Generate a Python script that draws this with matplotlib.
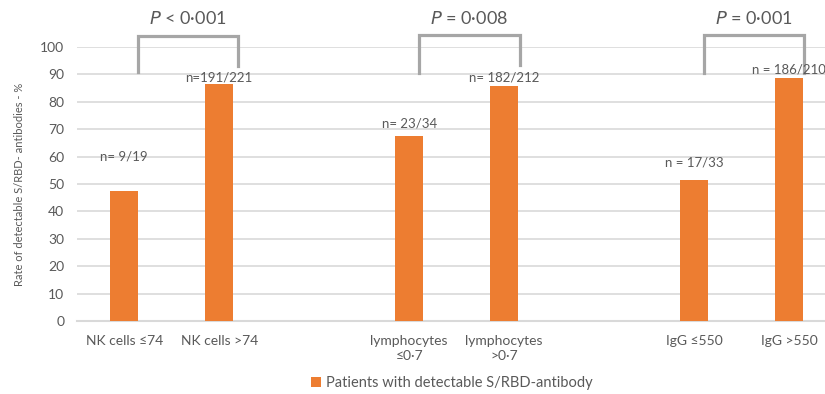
import matplotlib.pyplot as plt

plt.rcParams['font.family'] = ['Lato', 'DejaVu Sans']

categories = ["NK cells ≤74", "NK cells >74", "", "lymphocytes\n≤0·7",
              "lymphocytes\n>0·7", "", "IgG ≤550", "IgG >550"]
bar_pos = [0, 1, 3, 4, 6, 7]
values = [47.4, 86.4, 67.6, 85.8, 51.5, 88.6]
n_labels = ["n= 9/19", "n=191/221", "n= 23/34", "n= 182/212", "n = 17/33", "n = 186/210"]
n_label_y = [60.2, 89.0, 71.9, 89.0, 57.7, 91.6]

p_texts = [r"$\it{P}$ < 0·001", r"$\it{P}$ = 0·008", r"$\it{P}$ = 0·001"]
# bracket: x left, x right, left leg bottom, right leg bottom, top
brackets = [(0.14, 1.2, 91, 93, 103.8),
            (3.1, 4.17, 90.5, 93.5, 104.4),
            (6.1, 7.16, 90.5, 90.5, 104.4)]

orange = "#ED7D31"
txt = "#595959"
grid = "#D9D9D9"

fig = plt.figure(figsize=(8.25, 3.94), dpi=100)
ax = fig.add_axes([0.093, 0.185, 0.921, 0.696])

ax.bar(bar_pos, values, width=0.3, color=orange, zorder=3,
       label="Patients with detectable S/RBD-antibody")

for x, lab, y in zip(bar_pos, n_labels, n_label_y):
    ax.text(x, y, lab, ha="center", va="center", fontsize=9.5, color=txt)

for (xl, xr, yl, yr, top), pt in zip(brackets, p_texts):
    ax.plot([xl, xl, xr, xr], [yl, top, top, yr], color="#A6A6A6",
            lw=2.3, clip_on=False, solid_joinstyle="miter")
    ax.text((xl + xr) / 2, 110.5, pt, ha="center", va="center",
            fontsize=13, color=txt, clip_on=False)

ax.set_xlim(-0.5, 7.5)
ax.set_ylim(0, 100)
ax.set_yticks(range(0, 101, 10))
ax.set_xticks(range(len(categories)))
ax.set_xticklabels(categories, fontsize=10, color=txt, linespacing=1.3)
ax.tick_params(axis="both", length=0, labelcolor=txt)
ax.tick_params(axis="y", labelsize=10, pad=9)
ax.tick_params(axis="x", pad=10)
ax.yaxis.grid(True, color=grid, lw=1.2, zorder=0)
ax.set_axisbelow(True)
for s in ["top", "right", "left"]:
    ax.spines[s].set_visible(False)
ax.spines["bottom"].set_color(grid)
ax.spines["bottom"].set_linewidth(1.5)

ax.set_ylabel("Rate of detectable S/RBD- antibodies - %", fontsize=8, color=txt, labelpad=11)

ax.legend(loc="center", bbox_to_anchor=(0.548, 0.028),
          bbox_transform=fig.transFigure, frameon=False, fontsize=10.5,
          handlelength=0.65, handleheight=0.65, handletextpad=0.35, labelcolor=txt)

fig.savefig("out.png", dpi=100)
